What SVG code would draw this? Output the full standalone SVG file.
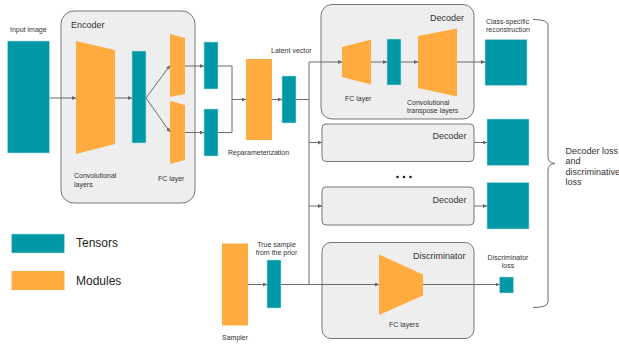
<svg xmlns="http://www.w3.org/2000/svg" width="619" height="345" viewBox="0 0 619 345">
  <defs>
    <marker id="arrow" viewBox="0 0 6 6" refX="6" refY="3" markerWidth="4" markerHeight="4" orient="auto" markerUnits="userSpaceOnUse">
      <path d="M0,0 L6,3 L0,6 Z" fill="#666"/>
    </marker>
    <style>
      .tensor { fill: #0097a7; stroke: #b2dfe3; stroke-width: 0.6; }
      .module { fill: #ffab40; }
      .box { fill: #eeeeee; stroke: #777; stroke-width: 1; }
      .wire { fill: none; stroke: #6b6b6b; stroke-width: 1; }
      .arr { marker-end: url(#arrow); }
      text { font-family: "Liberation Sans", Arial, sans-serif; fill: #333; }
      .title { font-size: 9px; }
      .small { font-size: 7px; }
      .legend { font-size: 12px; fill: #222; }
    </style>
  </defs>

  <rect width="619" height="345" fill="#ffffff"/>

  <!-- container boxes -->
  <g id="encoder">
    <rect class="box" x="61" y="11" width="134" height="192" rx="13"/>
    <text class="title" x="71" y="28">Encoder</text>
    <polygon class="module" points="76,41 115,50 115,144 76,154"/>
    <rect class="tensor" x="132" y="51" width="14" height="92"/>
    <polygon class="module" points="170,34 185,38 185,94 170,97"/>
    <polygon class="module" points="170,101 185,105 185,160 170,164"/>
    <text class="small" x="74" y="178">Convolutional</text>
    <text class="small" x="74" y="187">layers</text>
    <text class="small" x="158" y="181">FC layer</text>
  </g>

  <g id="decoder-1">
    <rect class="box" x="321" y="4.5" width="153" height="114.5" rx="11"/>
    <text class="title" x="464" y="21" text-anchor="end">Decoder</text>
    <polygon class="module" points="342,47 371,39.5 371,84.5 342,77"/>
    <rect class="tensor" x="387" y="39" width="14" height="46"/>
    <polygon class="module" points="418,36 457,28.5 457,96.5 418,88"/>
    <text class="small" x="345" y="101">FC layer</text>
    <text class="small" x="407" y="104.5">Convolutional</text>
    <text class="small" x="407" y="113">transpose layers</text>
  </g>

  <g id="decoder-2">
    <rect class="box" x="322" y="124" width="152" height="37.5" rx="4"/>
    <text class="title" x="466.5" y="138.5" text-anchor="end">Decoder</text>
  </g>

  <g id="decoder-n">
    <rect class="box" x="322" y="187" width="152" height="38" rx="4"/>
    <text class="title" x="466.5" y="202.5" text-anchor="end">Decoder</text>
  </g>

  <g id="discriminator">
    <rect class="box" x="322" y="242.5" width="152" height="96" rx="9"/>
    <text class="title" x="465.5" y="259" text-anchor="end">Discriminator</text>
    <polygon class="module" points="379,254.5 423,274.5 423,295.5 379,315"/>
    <text class="small" x="389" y="327">FC layers</text>
  </g>

  <!-- standalone tensors and modules -->
  <g id="input-image">
    <rect class="tensor" x="7.5" y="41" width="42" height="112"/>
    <text class="small" x="10" y="32">Input image</text>
  </g>

  <g id="mu-tensor">
    <rect class="tensor" x="204" y="42" width="14" height="47"/>
  </g>
  <g id="sigma-tensor">
    <rect class="tensor" x="204" y="109" width="14" height="47"/>
  </g>

  <g id="reparameterization">
    <rect class="module" x="246" y="59" width="26" height="81"/>
    <text class="small" x="228" y="155">Reparameterization</text>
  </g>

  <g id="latent-vector">
    <rect class="tensor" x="282" y="76" width="14" height="47"/>
    <text class="small" x="271" y="53">Latent vector</text>
  </g>

  <g id="sampler">
    <rect class="module" x="222" y="243.5" width="26" height="82"/>
    <text class="small" x="222" y="340">Sampler</text>
  </g>

  <g id="prior-sample">
    <rect class="tensor" x="267" y="260" width="14" height="48"/>
    <text class="small" x="276.5" y="246.5" text-anchor="middle">True sample</text>
    <text class="small" x="276.5" y="255" text-anchor="middle">from the prior</text>
  </g>

  <g id="reconstruction">
    <rect class="tensor" x="485" y="39.5" width="42" height="46"/>
    <text class="small" x="486" y="23.5">Class-specific</text>
    <text class="small" x="486" y="31.5">reconstruction</text>
  </g>
  <g id="output-2">
    <rect class="tensor" x="487" y="119" width="42" height="46.5"/>
  </g>
  <g id="output-n">
    <rect class="tensor" x="487" y="182.5" width="42" height="46.5"/>
  </g>

  <g id="ellipsis">
    <circle cx="397.5" cy="177" r="1.3" fill="#222"/>
    <circle cx="404" cy="177" r="1.3" fill="#222"/>
    <circle cx="410.5" cy="177" r="1.3" fill="#222"/>
  </g>

  <g id="discriminator-loss">
    <rect class="tensor" x="499.5" y="277" width="14" height="16"/>
    <text class="small" x="508" y="259.5" text-anchor="middle">Discriminator</text>
    <text class="small" x="508" y="267.5" text-anchor="middle">loss</text>
  </g>

  <g id="loss-brace">
    <path class="wire" d="M533,19.5 Q548,19.5 548,25 V157 Q548,163 555,163.5 Q548,164 548,170 V302 Q548,307.5 533,307.5"/>
    <text class="title" x="565.5" y="153.5">Decoder loss</text>
    <text class="title" x="565.5" y="164">and</text>
    <text class="title" x="565.5" y="174.5">discriminative</text>
    <text class="title" x="565.5" y="185">loss</text>
  </g>

  <g id="legend">
    <rect class="tensor" x="11.5" y="234" width="53" height="19"/>
    <text class="legend" x="76" y="247">Tensors</text>
    <rect class="module" x="11.5" y="271" width="53" height="19"/>
    <text class="legend" x="76" y="284.5">Modules</text>
  </g>

  <!-- connectors -->
  <g id="connectors">
    <path class="wire arr" d="M49.5,98 H76"/>
    <path class="wire arr" d="M115,98 H132"/>
    <path class="wire arr" d="M146,98 L170,65.5"/>
    <path class="wire arr" d="M146,98 L170,132"/>
    <path class="wire arr" d="M185,66 H204"/>
    <path class="wire arr" d="M185,132.5 H204"/>
    <path class="wire" d="M218,66 H232 V132.5 H218"/>
    <path class="wire arr" d="M232,99.5 H246"/>
    <path class="wire arr" d="M272,99.5 H282"/>
    <path class="wire" d="M296,99.5 H309"/>
    <path class="wire" d="M309,62 V284.5"/>
    <path class="wire arr" d="M309,62 H342"/>
    <path class="wire arr" d="M309,142.5 H322"/>
    <path class="wire arr" d="M309,206 H322"/>
    <path class="wire arr" d="M371,62 H387"/>
    <path class="wire arr" d="M401,62 H418"/>
    <path class="wire arr" d="M457,62 H485"/>
    <path class="wire arr" d="M474,142.5 H487"/>
    <path class="wire arr" d="M474,206 H487"/>
    <path class="wire arr" d="M248,284.5 H267"/>
    <path class="wire arr" d="M281,284.5 H379"/>
    <path class="wire arr" d="M423,284.5 H499.5"/>
  </g>
</svg>
